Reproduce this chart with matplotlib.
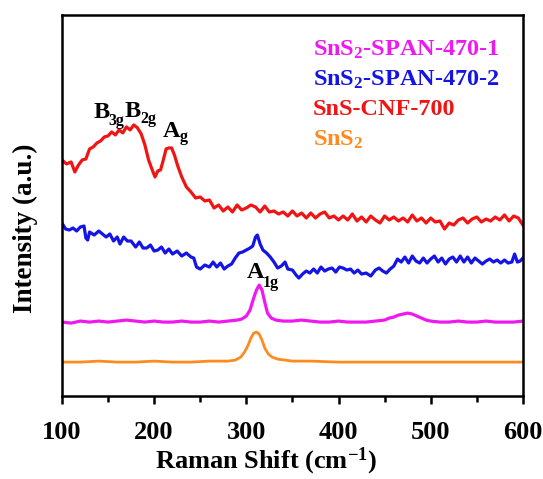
# Raman spectra of SnS2 / SnS samples
import matplotlib
matplotlib.use('Agg')
import matplotlib.pyplot as plt
from matplotlib import rcParams

rcParams['font.family'] = 'Liberation Serif'
rcParams['font.weight'] = 'bold'
rcParams['mathtext.default'] = 'regular'

# SnS-CNF-700 (red)
red_x = [100, 105, 110, 114, 118, 122, 126, 130, 134, 138, 142, 146, 150, 154, 158, 162, 166, 170,
         174, 178, 182, 186, 190, 194, 198, 201, 204, 207, 210, 213, 216, 219, 222, 226, 230, 235,
         240, 245, 250, 255, 260, 265, 270, 275, 280, 285, 290, 295, 300, 305, 310, 315, 320, 325,
         330, 335, 340, 345, 350, 355, 360, 365, 370, 375, 380, 385, 390, 395, 400, 405, 410, 415,
         420, 425, 430, 435, 440, 445, 450, 455, 460, 465, 470, 475, 480, 485, 490, 495, 500, 505,
         510, 515, 520, 525, 530, 535, 540, 545, 550, 555, 560, 565, 570, 575, 580, 585, 590, 595, 600]
red_y = [236, 232, 234, 224, 231, 236, 237, 247, 249, 253, 255, 259, 260, 264, 261, 266, 263, 269,
         266, 271, 268, 262, 251, 236, 226, 219, 225, 226, 236, 247, 248, 248, 241, 229, 219, 209,
         204, 198, 199, 195, 196, 188, 191, 185, 189, 184, 191, 186, 188, 191, 189, 184, 190, 184,
         185, 182, 184, 180, 185, 180, 183, 178, 183, 178, 182, 184, 178, 180, 176, 180, 176, 182,
         175, 179, 174, 180, 176, 173, 180, 176, 179, 175, 178, 174, 181, 175, 178, 173, 178, 174,
         175, 167, 173, 171, 176, 178, 173, 177, 179, 174, 177, 175, 179, 176, 181, 175, 180, 178, 171]

# SnS2-SPAN-470-2 (blue)
blue_x = [100, 104, 108, 112, 116, 120, 124, 126, 128, 130, 135, 140, 144, 148, 152, 156, 160, 163,
          167, 171, 175, 180, 184, 188, 192, 196, 200, 204, 208, 212, 216, 220, 225, 230, 235, 240,
          243, 246, 250, 255, 260, 264, 268, 272, 276, 280, 284, 288, 292, 296, 300, 304, 307, 310,
          312, 315, 318, 322, 326, 330, 334, 338, 342, 345, 350, 354, 357, 361, 365, 369, 373, 377,
          381, 385, 389, 393, 397, 401, 405, 409, 413, 417, 421, 425, 430, 435, 440, 444, 448, 452,
          456, 460, 464, 468, 472, 476, 480, 484, 488, 492, 496, 500, 504, 508, 512, 516, 520, 524,
          528, 532, 536, 540, 544, 548, 552, 556, 560, 564, 568, 572, 576, 580, 584, 588, 591, 594,
          597, 600]
blue_y = [173, 167, 166, 168, 165, 169, 170, 158, 156, 164, 161, 165, 162, 159, 162, 155, 159, 152,
          159, 155, 155, 149, 154, 148, 148, 151, 145, 146, 149, 143, 147, 142, 145, 140, 143, 139,
          138, 129, 127, 131, 129, 134, 129, 133, 127, 130, 132, 138, 143, 144, 146, 148, 150, 159,
          161, 152, 146, 143, 139, 134, 128, 130, 134, 127, 126, 121, 118, 122, 125, 123, 127, 123,
          129, 125, 127, 128, 124, 129, 128, 126, 127, 123, 126, 122, 123, 120, 126, 128, 125, 123,
          127, 130, 137, 134, 139, 133, 140, 135, 133, 138, 133, 137, 140, 134, 138, 132, 137, 139,
          134, 140, 134, 139, 133, 138, 135, 132, 135, 137, 134, 136, 133, 136, 133, 134, 142, 134,
          135, 138]

# SnS2-SPAN-470-1 (magenta)
mag_x = [100, 110, 120, 130, 140, 150, 160, 170, 180, 190, 200, 210, 220, 230, 240, 250, 260, 270,
         280, 290, 295, 300, 304, 308, 311, 314, 317, 320, 323, 327, 332, 340, 350, 360, 370, 380,
         390, 400, 410, 420, 430, 440, 450, 455, 460, 465, 470, 475, 480, 485, 490, 495, 500, 510,
         520, 530, 540, 550, 560, 570, 580, 590, 600]
mag_y = [74, 73, 75, 74, 75, 74, 75, 76, 75, 74, 75, 74, 74, 75, 74, 74, 75, 74,
         75, 76, 77, 80, 86, 98, 106, 111, 106, 94, 83, 78, 76, 75, 75, 76, 75, 74,
         74, 75, 74, 74, 74, 75, 76, 78, 79, 81, 82, 83, 82, 80, 78, 76, 75, 74,
         74, 75, 74, 74, 75, 74, 74, 74, 75]

# SnS2 (orange)
org_x = [100, 120, 140, 160, 180, 200, 220, 240, 260, 270, 280, 288, 294, 298, 302, 305, 308, 311,
         314, 317, 320, 324, 328, 334, 342, 350, 370, 400, 430, 460, 500, 540, 570, 600]
org_y = [34, 34, 35, 34, 34, 35, 34, 34, 35, 35, 35, 36, 39, 44, 51, 58, 63, 64,
         62, 56, 48, 42, 39, 37, 36, 35, 35, 34, 34, 34, 34, 34, 34, 34]

# peak labels: (main letter, subscript, x, baseline y, subscript x, subscript baseline y)
peaks = [('B', '3g', 134, 278, 150, 271),
         ('B', '2g', 168, 279, 185, 273),
         ('A', 'g', 209, 259, 228, 255),
         ('A', '1g', 301, 118, 318, 109)]

c_mag = '#F018F0'
c_blue = '#1414E6'
c_red = '#F01414'
c_org = '#FF8A1E'

fig = plt.figure(figsize=(5.43, 4.79), dpi=100)
ax = fig.add_axes([0.114, 0.173, 0.849, 0.796])

l_org, = ax.plot(org_x, org_y, color=c_org, lw=2.0, label='SnS$_2$')
l_mag, = ax.plot(mag_x, mag_y, color=c_mag, lw=2.3, label='SnS$_2$-SPAN-470-1')
l_blue, = ax.plot(blue_x, blue_y, color=c_blue, lw=2.3, label='SnS$_2$-SPAN-470-2')
l_red, = ax.plot(red_x, red_y, color=c_red, lw=2.3, label='SnS-CNF-700')

ax.set_xlim(100, 600)
ax.set_ylim(0, 381)
ax.set_xticks([100, 200, 300, 400, 500, 600])
ax.set_xticks([150, 250, 350, 450, 550], minor=True)
ax.set_yticks([])
ax.tick_params(axis='x', which='major', direction='out', length=6, width=1.8, labelsize=19, pad=12)
ax.tick_params(axis='x', which='minor', direction='out', length=4, width=1.8)
for spine in ax.spines.values():
    spine.set_linewidth(1.8)

ax.set_xlabel('Raman Shift (cm$^{-1}$)', fontsize=19, fontweight='bold')
ax.xaxis.set_label_coords(0.443, -0.13)
ax.set_ylabel('Intensity (a.u.)', fontsize=19.5, fontweight='bold')
ax.yaxis.set_label_coords(-0.052, 0.44)

for main, sub, x, y, sx, sy in peaks:
    ax.text(x, y, main, fontsize=17.5, ha='left', va='baseline')
    ax.text(sx, sy, sub, fontsize=11.5, ha='left', va='baseline')

# coloured legend text, left aligned, top right
for i, line in enumerate([l_mag, l_blue, l_red, l_org]):
    ax.text(0.545, 0.894 - i * 0.0787, line.get_label(), color=line.get_color(),
            fontsize=17.5, ha='left', va='baseline', transform=ax.transAxes)

fig.savefig('out.png', dpi=100)
